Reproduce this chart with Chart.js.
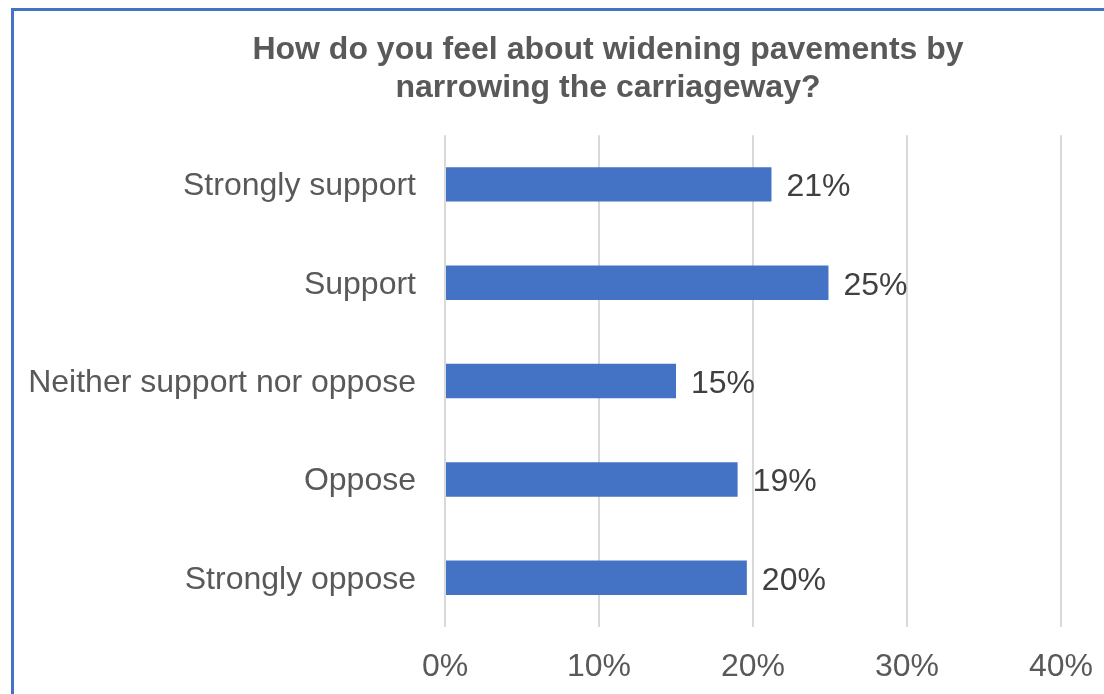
<!DOCTYPE html>
<html>
<head>
<meta charset="utf-8">
<script src="https://cdn.jsdelivr.net/npm/chart.js@4/dist/chart.umd.min.js"></script>
<style>
  html, body { margin: 0; padding: 0; background: #fff; overflow: hidden; width: 1104px; height: 694px; }
  #frame {
    position: absolute; left: 11px; top: 8px; width: 1200px; height: 800px;
    border-left: 3px solid #4472C4; border-top: 3px solid #4472C4;
  }
  /* the chart panel runs past the right edge of the window */
  #wrap { position: absolute; left: 0; top: 0; width: 1216px; height: 694px; }
</style>
</head>
<body>
<div id="frame"></div>
<div id="wrap"><canvas id="feelChart"></canvas></div>
<script>
// survey answers, top to bottom
var answers = ['Strongly support', 'Support', 'Neither support nor oppose', 'Oppose', 'Strongly oppose'];
var percentages = [21.2, 24.9, 15.0, 19.0, 19.6];
var axisTicks = [0, 10, 20, 30, 40];

var titleLines = ['How do you feel about widening pavements by', 'narrowing the carriageway?'];

var fontFamily = '"Liberation Sans", Arial, sans-serif';

// writes the rounded percentage just past the end of each bar
var barValueLabels = {
    id: 'barValueLabels',
    afterDatasetsDraw: function (chart) {
        var ctx = chart.ctx;
        var meta = chart.getDatasetMeta(0);
        ctx.save();
        ctx.font = '32px ' + fontFamily;
        ctx.fillStyle = '#404040';
        ctx.textAlign = 'left';
        ctx.textBaseline = 'middle';
        meta.data.forEach(function (bar, i) {
            ctx.fillText(Math.round(percentages[i]) + '%', bar.x + 15, bar.y + 3);
        });
        ctx.restore();
    }
};

var context = document.getElementById('feelChart').getContext('2d');

var feelChart = new Chart(context, {
    type: 'bar',
    data: {
        labels: answers,
        datasets: [{
            data: percentages,
            backgroundColor: '#4472C4',
            borderWidth: 0,
            barPercentage: 0.35,
            categoryPercentage: 1.0
        }]
    },
    options: {
        indexAxis: 'y',
        responsive: true,
        maintainAspectRatio: false,
        animation: false,
        layout: { padding: { top: 20, right: 0, bottom: 0, left: 0 } },
        plugins: {
            legend: { display: false },
            tooltip: { enabled: false },
            title: {
                display: true,
                text: titleLines,
                color: '#595959',
                font: { family: fontFamily, size: 32, weight: 'bold', lineHeight: 1.19 },
                padding: { top: 11, bottom: 28 }
            }
        },
        scales: {
            x: {
                min: 0,
                max: 40,
                afterBuildTicks: function (scale) {
                    scale.ticks = axisTicks.map(function (v) { return { value: v }; });
                },
                afterFit: function (scale) {
                    scale.height = 67;
                    scale.paddingLeft = 0;
                    scale.paddingRight = 0;
                },
                grid: { color: '#D9D9D9', lineWidth: 2, drawTicks: false },
                border: { display: false },
                ticks: {
                    color: '#595959',
                    font: { family: fontFamily, size: 32 },
                    padding: 21,
                    callback: function (v) { return v + '%'; }
                }
            },
            y: {
                afterFit: function (scale) { scale.width = 445; },
                grid: { display: false, drawTicks: false },
                border: { display: false },
                ticks: {
                    color: '#595959',
                    font: { family: fontFamily, size: 32 },
                    padding: 29,
                    labelOffset: 2
                }
            },
            // empty strip on the right, keeps the plot narrower than the panel
            yRight: {
                axis: 'y',
                position: 'right',
                afterFit: function (scale) { scale.width = 155; },
                grid: { display: false, drawTicks: false },
                border: { display: false },
                ticks: { display: false }
            }
        }
    },
    plugins: [barValueLabels]
});
</script>
</body>
</html>
